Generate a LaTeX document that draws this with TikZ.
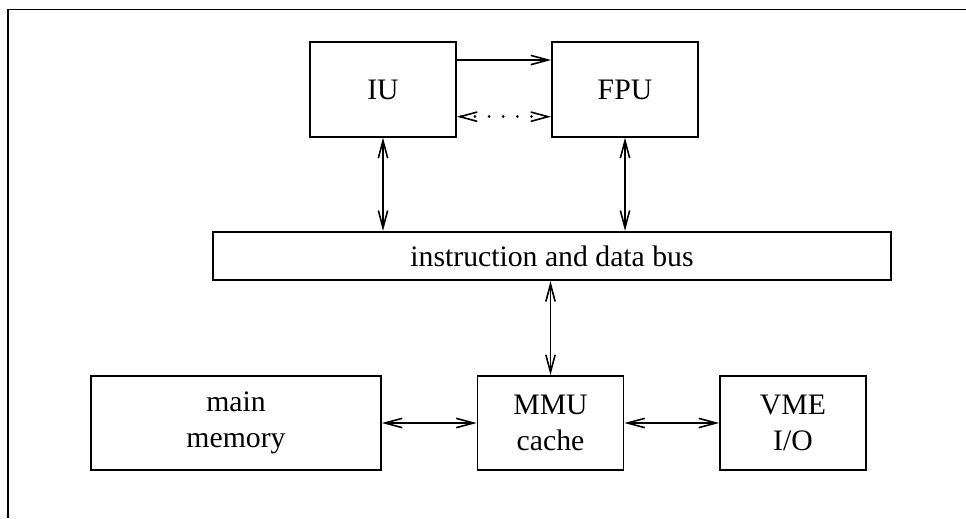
\documentclass[tikz,border=0pt]{standalone}
\usepackage{fontspec}
\setmainfont{Liberation Serif}
\usetikzlibrary{arrows.meta}
\begin{document}
\begin{tikzpicture}[x=0.75pt,y=-0.75pt,
  unitbox/.style={draw, line width=1.3pt, minimum width=109.5pt, minimum height=71pt, inner sep=0pt, align=center, font=\fontsize{22.3}{26.5}\selectfont},
  link/.style={line width=1.2pt, {Straight Barb[length=13pt,width=7pt]}-{Straight Barb[length=13pt,width=7pt]}},
  onelink/.style={line width=1.2pt, -{Straight Barb[length=13pt,width=7pt]}},
  dotlink/.style={line width=2pt, line cap=round, dash pattern=on 0.1pt off 10.5pt, {Straight Barb[length=13pt,width=7pt,line width=1.2pt,line cap=butt]}-{Straight Barb[length=13pt,width=7pt,line width=1.2pt,line cap=butt]}}]
\useasboundingbox (0,0) rectangle (966,518);
\fill[white] (0,0) rectangle (966,518);
% frame (top and left sides only)
\coordinate (ftr) at (966,9.5);
\coordinate (ftl) at (8,9.5);
\coordinate (fbl) at (8,518);
\draw[line width=1.4pt] (ftr) -- (ftl) -- (fbl);
% boxes
\node[unitbox] (IU) at (383,89.5) {IU};
\node[unitbox] (FPU) at (625,89.5) {FPU};
\node[unitbox, minimum width=508.5pt, minimum height=36.4pt] (bus) at (552,256) {instruction and data bus};
\node[unitbox, minimum height=70.5pt, minimum width=217.5pt] (mem) at (236,423) {main\\memory};
\node[unitbox, minimum height=70.5pt] (MMU) at (550.5,423) {MMU\\cache};
\node[unitbox, minimum height=70.5pt] (VME) at (793,423) {VME\\I/O};
% connectors
\draw[onelink] ([yshift=22.1pt]IU.east) -- ([yshift=22.1pt]FPU.west);
\draw[dotlink] ([yshift=-20.4pt]IU.east) -- ([yshift=-20.4pt]FPU.west);
\draw[link] (IU.south) -- (IU.south |- bus.north);
\draw[link] (FPU.south) -- (FPU.south |- bus.north);
\draw[link] (MMU.north |- bus.south) -- (MMU.north);
\draw[link] (mem.east) -- (MMU.west);
\draw[link] (MMU.east) -- (VME.west);
\end{tikzpicture}
\end{document}
